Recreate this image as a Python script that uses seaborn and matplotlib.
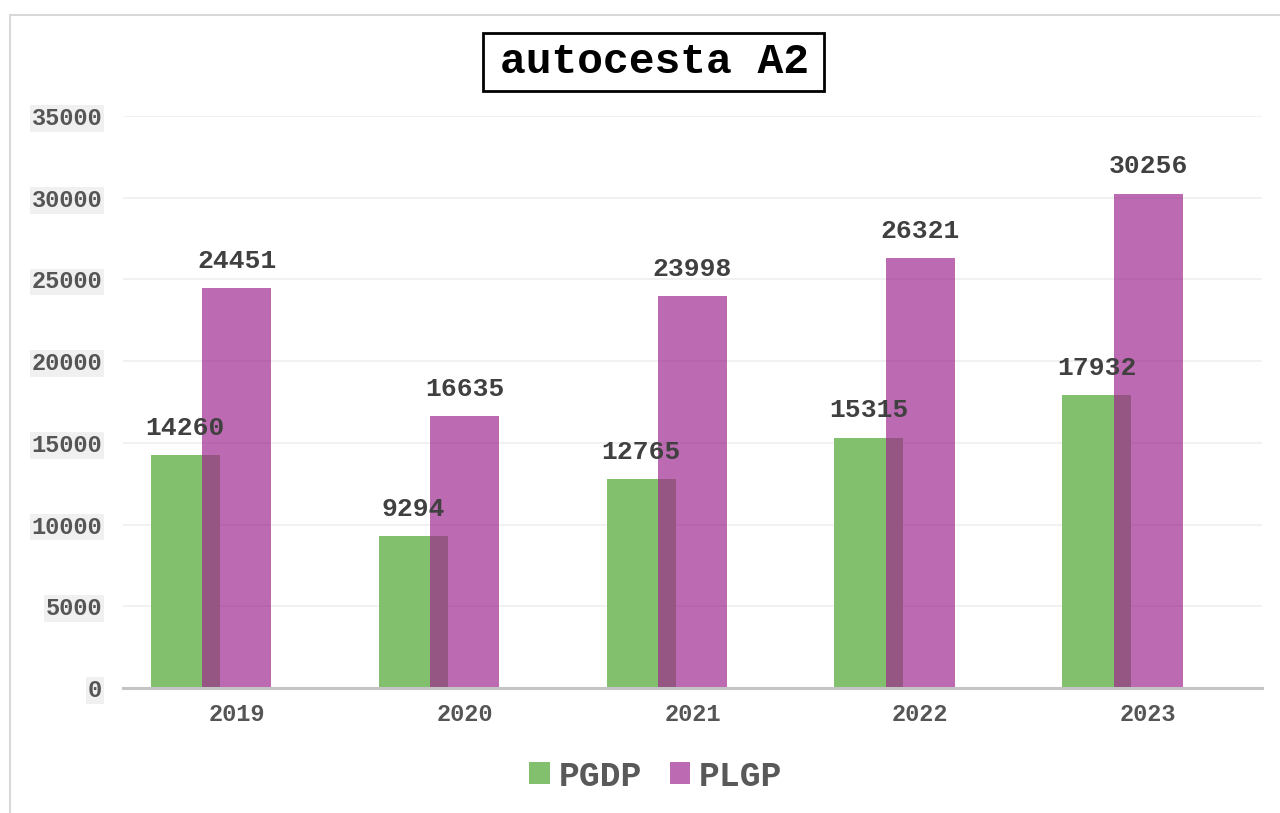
import numpy as np
import pandas as pd
import matplotlib
matplotlib.use("Agg")
import matplotlib.pyplot as plt
from matplotlib.lines import Line2D
from matplotlib.patches import Rectangle
import seaborn as sns

# values
YEARS = ['2019', '2020', '2021', '2022', '2023']
PGDP = [14260, 9294, 12765, 15315, 17932]
PLGP = [24451, 16635, 23998, 26321, 30256]
SERIES = ['PGDP', 'PLGP']
TITLE = 'autocesta A2'

GREEN = '#83c06d'
PURPLE = '#9e278e'
PURPLE_ALPHA = 0.69

sns.set_theme(style='white')
plt.rcParams['font.family'] = ['Liberation Mono', 'DejaVu Sans']

df = pd.DataFrame({'year': YEARS, 'PGDP': PGDP, 'PLGP': PLGP})
pos = np.arange(len(YEARS))

fig = plt.figure(figsize=(12.8, 8.13), dpi=100)
ax = fig.add_axes([123 / 1280, 1 - 688 / 813, (1262 - 123) / 1280, (688 - 116) / 813])

# green bar shifted left, purple bar centred and drawn on top (translucent)
sns.barplot(x=pos - 0.226, y=df['PGDP'], native_scale=True, orient='x', width=0.303,
            color=GREEN, saturation=1, linewidth=0, label=SERIES[0], ax=ax)
sns.barplot(x=pos, y=df['PLGP'], native_scale=True, orient='x', width=0.303,
            color=PURPLE, alpha=PURPLE_ALPHA, saturation=1, linewidth=0,
            label=SERIES[1], ax=ax)

for cont in ax.containers:
    ax.bar_label(cont, labels=[str(int(round(b.get_height()))) for b in cont],
                 padding=11, fontsize=19, fontweight='bold', color='#404040')

ax.set_xlim(-0.5, len(YEARS) - 0.5)
ax.set_ylim(0, 35000)
ax.set_yticks(np.arange(0, 35001, 5000))
ax.set_xticks(pos)
ax.set_xticklabels(YEARS)
ax.set_xlabel('')
ax.set_ylabel('')

ax.grid(axis='y', color='#efefef', linewidth=1.2)
ax.set_axisbelow(True)
for side in ['left', 'right', 'top']:
    ax.spines[side].set_visible(False)
ax.spines['bottom'].set_color('#c4c4c4')
ax.spines['bottom'].set_linewidth(2.2)

ax.tick_params(axis='y', length=0, pad=15, labelsize=17, labelcolor='#555555')
ax.tick_params(axis='x', length=0, pad=11, labelsize=17, labelcolor='#555555')
for t in ax.get_yticklabels() + ax.get_xticklabels():
    t.set_fontweight('bold')
for t in ax.get_yticklabels():
    t.set_bbox(dict(facecolor='#f0f0f0', edgecolor='none', boxstyle='square,pad=0.08'))

ax.legend(loc='center', bbox_to_anchor=(656 / 1280, 1 - 776 / 813),
          bbox_transform=fig.transFigure, ncol=2, frameon=False,
          prop={'size': 25, 'weight': 'bold'}, labelcolor='#595959',
          handlelength=0.58, handleheight=0.58, handletextpad=0.26,
          columnspacing=0.8)

# title in a black-bordered box
fig.text(654 / 1280, 1 - 73 / 813, TITLE, ha='center', va='baseline',
         fontsize=31, fontweight='bold', color='black')
fig.patches.append(Rectangle((483 / 1280, 1 - 91 / 813), (824 - 483) / 1280, 58 / 813,
                             transform=fig.transFigure, fill=False,
                             edgecolor='black', linewidth=2))

# chart container frame (left and top edges visible)
fig.add_artist(Line2D([10 / 1280, 10 / 1280], [0, 1 - 15 / 813],
                      transform=fig.transFigure, color='#d9d9d9', linewidth=1.5))
fig.add_artist(Line2D([10 / 1280, 1], [1 - 15 / 813, 1 - 15 / 813],
                      transform=fig.transFigure, color='#d9d9d9', linewidth=1.5))

fig.savefig('out.png', dpi=100)
